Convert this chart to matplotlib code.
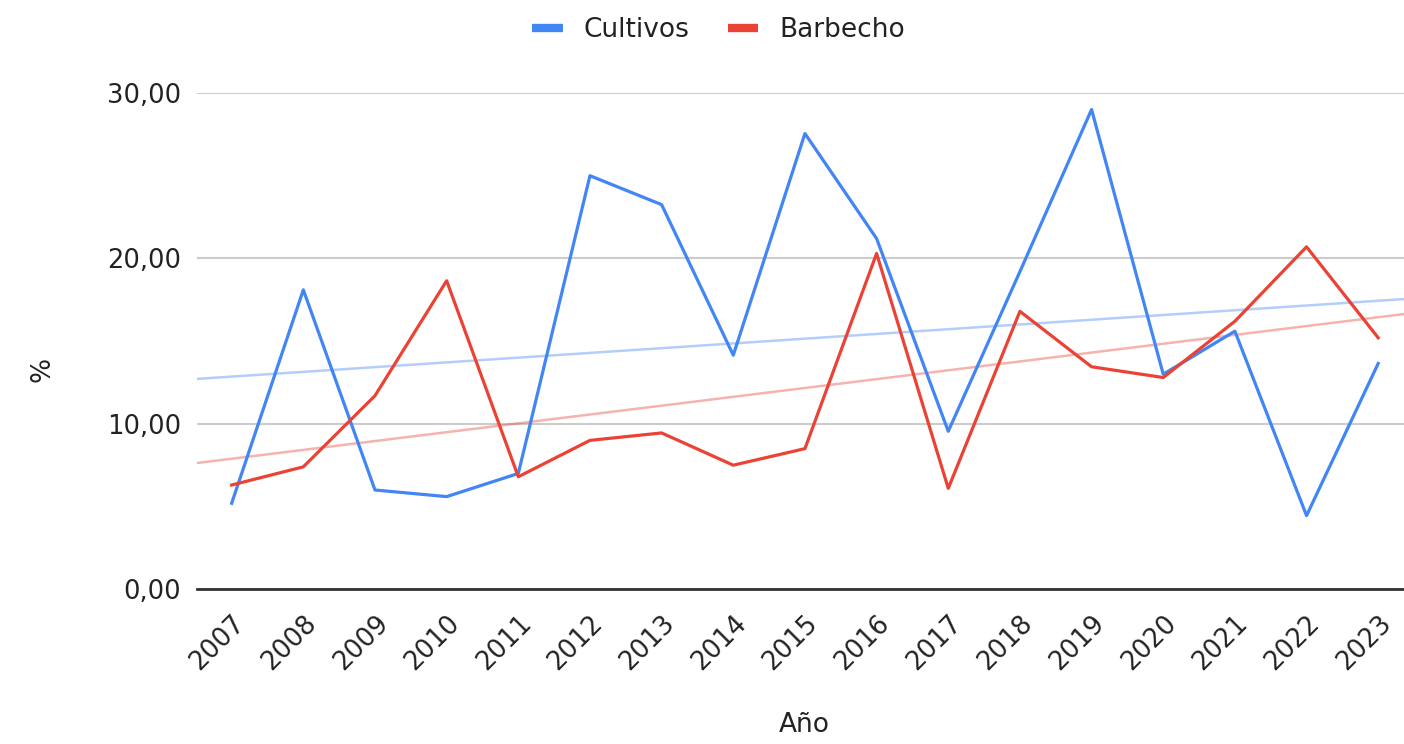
import numpy as np
import matplotlib.pyplot as plt

years = list(range(2007, 2024))
cultivos = [5.2, 18.1, 6.0, 5.6, 7.0, 25.0, 23.25, 14.15, 27.55, 21.2,
            9.55, 19.2, 29.0, 13.0, 15.6, 4.45, 13.65]
barbecho = [6.3, 7.4, 11.7, 18.65, 6.8, 9.0, 9.45, 7.5, 8.5, 20.3,
            6.1, 16.8, 13.45, 12.8, 16.2, 20.7, 15.2]
y_ticks = [0, 10, 20, 30]

blue = "#4285f4"
red = "#ea4335"

plt.rcParams["font.family"] = ["DejaVu Sans"]

fig = plt.figure(figsize=(14.04, 7.44), dpi=100)
ax = fig.add_axes([0.140, 0.208, 0.860, 0.667])

x = np.array(years)
xlim = (2006.51, 2023.36)
xx = np.array(xlim)

# trendlines (linear fit)
for vals, col in [(cultivos, blue), (barbecho, red)]:
    k, b = np.polyfit(x, vals, 1)
    ax.plot(xx, k * xx + b, color=col, alpha=0.4, lw=1.8, zorder=2)

ax.plot(x, cultivos, color=blue, lw=2.3, label="Cultivos", zorder=3)
ax.plot(x, barbecho, color=red, lw=2.3, label="Barbecho", zorder=3)

ax.set_xlim(*xlim)
ax.set_ylim(0, 30)
ax.set_yticks(y_ticks)
ax.set_yticklabels([f"{v:.2f}".replace(".", ",") for v in y_ticks])
ax.set_xticks(years)
ax.set_xticklabels([str(y) for y in years], rotation=45, ha="right",
                   rotation_mode="anchor")
ax.tick_params(axis="both", length=0, labelsize=18.5, colors="#222222")
ax.tick_params(axis="y", pad=11)
ax.tick_params(axis="x", pad=15)

ax.grid(axis="y", color="#cccccc", lw=1.5)
ax.set_axisbelow(True)
for s in ["top", "right", "left"]:
    ax.spines[s].set_visible(False)
ax.spines["bottom"].set_color("#333333")
ax.spines["bottom"].set_linewidth(2)
ax.spines["bottom"].set_zorder(4)

fig.text(0.030, 0.503, "%", rotation=90, fontsize=19, color="#222222",
         ha="center", va="center")
fig.text(0.573, 0.025, "Año", fontsize=19, color="#222222",
         ha="center", va="center")

leg = fig.legend(loc="center", bbox_to_anchor=(0.512, 0.960), ncol=2,
                 frameon=False, fontsize=19, handlelength=1.15,
                 columnspacing=1.45, handletextpad=0.8)
for h in leg.legend_handles:
    h.set_linewidth(6)
    h.set_solid_capstyle("butt")
for t in leg.get_texts():
    t.set_color("#222222")

fig.savefig("out.png", dpi=100)
